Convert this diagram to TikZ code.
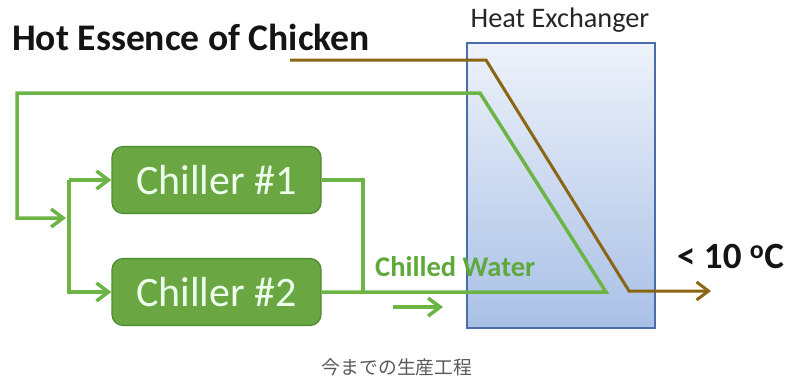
\documentclass[tikz,border=0pt]{standalone}
\usepackage{fontspec}
\setmainfont{Carlito}
\newfontfamily\cjk{Noto Sans CJK JP}
\usetikzlibrary{arrows.meta}
\definecolor{lgreen}{HTML}{6DB446}
\definecolor{bgreen}{HTML}{6AA743}
\definecolor{bgreenb}{HTML}{4E8B33}
\definecolor{tgreen}{HTML}{5EA93A}
\definecolor{brownl}{HTML}{8A6514}
\definecolor{hxtop}{HTML}{EEF2FA}
\definecolor{hxbot}{HTML}{A9C0E6}
\definecolor{hxb}{HTML}{4A6DAA}
\tikzset{
  gline/.style={draw=lgreen, line width=3.5pt, line join=miter},
  bline/.style={draw=brownl, line width=3pt},
  tipx/.style={-{Straight Barb[length=12pt,width=18pt]}},
  chiller/.style={draw=bgreenb, line width=1.2pt, fill=bgreen, rounded corners=11pt,
    minimum width=209pt, minimum height=67pt, text=white!92!green, font=\fontsize{42}{44}\selectfont},
  hxbox/.style={draw=hxb, line width=1.5pt, top color=hxtop, bottom color=hxbot,
    minimum width=188pt, minimum height=285pt, anchor=north west},
  lbl/.style={inner sep=0pt}
}
\begin{document}
\begin{tikzpicture}[x=1pt,y=-1pt]
\useasboundingbox (0,0) rectangle (788,383);
% heat exchanger
\node[hxbox] (hx) at (466,42) {};
\node[lbl, anchor=base, font=\fontsize{28.3}{30}\selectfont, text=black!85] (hxl) at (560,27) {Heat Exchanger};
\node[lbl, anchor=base west, font=\bfseries\fontsize{37.6}{40}\selectfont, text=black!92] (hot) at (12,50) {Hot Essence of Chicken};
% chillers
\node[chiller] (c1) at (216.5,180) {Chiller \#1};
\node[chiller] (c2) at (216.5,292) {Chiller \#2};
% coordinates
\coordinate (j2) at (363,292);
\coordinate (gtip) at (606,292);
\coordinate (gtop) at (480,93);
\coordinate (gtl) at (17,93);
\coordinate (gin) at (66,218);
\coordinate (b1) at (69,180);
\coordinate (b2) at (69,292);
\coordinate (cwa) at (393,307);
\coordinate (cwb) at (443,307);
\coordinate (hs) at (290,60);
\coordinate (htop) at (486,60);
\coordinate (hbot) at (629,291);
\coordinate (hend) at (711,291);
% green lines
\draw[gline] (c1.east) -| (j2);
\draw[gline, tipx] (c2.east) -- (gtip) -- (gtop) -- (gtl) |- (gin);
\draw[gline, tipx] (b1) -- (c1.west);
\draw[gline, tipx] (b1) -- (b2) -- (c2.west);
\draw[gline, tipx] (cwa) -- (cwb);
% brown line
\draw[bline, tipx] (hs) -- (htop) -- (hbot) -- (hend);
% labels
\node[lbl, anchor=base west, font=\bfseries\fontsize{28.5}{30}\selectfont, text=tgreen] (cw) at (375,276) {Chilled Water};
\node[lbl, anchor=base west, font=\bfseries\fontsize{37}{40}\selectfont, text=black!92] (temp) at (677,268) {< 10 \textsuperscript{o}C};
\node[lbl, anchor=base, font=\cjk\fontsize{18.8}{20}\selectfont, text=black!65] (cap) at (397,374) {今までの生産工程};
\end{tikzpicture}
\end{document}
